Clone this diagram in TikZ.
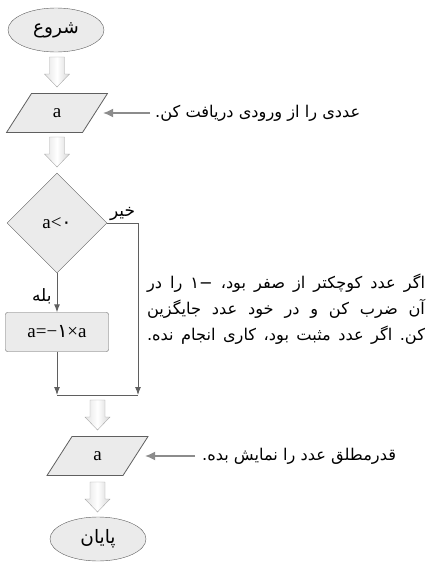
\documentclass[tikz,border=0pt]{standalone}
\usepackage{fontspec}
\setmainfont{Liberation Serif}
\newfontfamily\farsi[Script=Arabic]{DejaVu Sans}
\TeXXeTstate=1
\frenchspacing
\usetikzlibrary{arrows.meta,positioning,shapes.geometric,calc}

\definecolor{linegray}{HTML}{5F5F5F}
\definecolor{boxgray}{HTML}{EBEBEB}
\definecolor{pointergray}{HTML}{8C8C8C}
\definecolor{shaftgray}{HTML}{A8A8A8}

\tikzset{
  pics/flowarrow/.style={code={
    \draw[draw=shaftgray, left color=gray!22, right color=gray!32, middle color=white]
      (-7.5,0) -- (-7.5,17) -- (-12.5,17) -- (0,30) -- (12.5,17) -- (7.5,17) -- (7.5,0) -- cycle;
  }},
}
% slanted input/output box round a centre point
\newcommand{\ioshape}[1]{\draw[iobox] ($(#1)+(-50.5,19.5)$) -- ++(25,-39) -- ++(76,0) -- ++(-25,39) -- cycle;}

\begin{document}
\begin{tikzpicture}[x=1pt, y=-1pt,
  terminal/.style={ellipse, draw=linegray, fill=boxgray, minimum width=96pt, minimum height=44pt, inner sep=0pt, font=\farsi\fontsize{18.5}{20}\selectfont},
  iobox/.style={draw=linegray, fill=boxgray, line width=0.8pt},
  iotext/.style={minimum width=76pt, minimum height=39pt, inner sep=0pt, font=\fontsize{19}{21}\selectfont},
  decision/.style={diamond, draw=linegray, fill=boxgray, minimum width=100pt, minimum height=100pt, inner sep=0pt, font=\fontsize{19}{21}\selectfont},
  process/.style={rectangle, rounded corners=2pt, draw=linegray, fill=boxgray, minimum width=103pt, minimum height=39pt, inner sep=0pt, font=\fontsize{19}{21}\selectfont},
  flow/.style={draw=linegray, line width=1pt, -{Latex[length=8pt, width=6pt]}},
  pointer/.style={draw=pointergray, line width=1.2pt, -{Latex[length=10pt, width=9pt]}},
  note/.style={font=\farsi\fontsize{16.2}{26}\selectfont, inner sep=0pt},
  branch/.style={font=\farsi\fontsize{17}{19}\selectfont, inner sep=1pt},
]
\useasboundingbox (0,0) rectangle (428,563);

% flow column
\node[terminal] (start) at (56,30) {\beginR شروع\endR};
\ioshape{57,113}
\node[iotext] (in) at (57,113) {a};
\node[decision] (test) at (57,223) {a<{\farsi ۰}};
\node[process] (neg) at (57,332) {a=−{\farsi ۱}×a};
\coordinate (joinL) at (57,395);
\coordinate (joinR) at (138,395);
\ioshape{97.5,456}
\node[iotext] (out) at (97.5,456) {a};
\node[terminal] (stop) at (98,539) {\beginR پایان\endR};

% block arrows between steps
\pic at (57,57) {flowarrow};
\pic at (57,137) {flowarrow};
\pic at (97.5,400) {flowarrow};
\pic at (97.5,482) {flowarrow};

% branches
\draw[flow] (test.south) -- node[branch, left=4pt, pos=0.6] {\beginR بله\endR} (neg.north);
\draw[flow] (neg.south) -- (joinL);
\draw[flow] (test.east) -- node[branch, above=1pt] {\beginR خیر\endR} (test.east -| joinR) -- (joinR);
\draw[draw=linegray, line width=1pt] (joinL) -- (joinR);

% notes
\node[note, anchor=west] (innote) at (155,113) {\beginR عددی را از ورودی دریافت کن.\endR};
\draw[pointer] (innote.west) ++(-5,0) -- ($(in.east)+(8,0)$);
\node[note, anchor=west] (outnote) at (202,456) {\beginR قدرمطلق عدد را نمایش بده.\endR};
\draw[pointer] (outnote.west) ++(-7,0) -- ($(out.east)+(9.5,0)$);
\node[note, align=center] (negnote) at (286,309) {%
  \makebox[278pt][s]{\beginR اگر عدد کوچکتر از صفر بود، \beginL−۱\endL{} را در\endR}\\
  \makebox[278pt][s]{\beginR آن ضرب کن و در خود عدد جایگزین\endR}\\
  \makebox[278pt][s]{\beginR کن. اگر عدد مثبت بود، کاری انجام نده.\endR}};
\end{tikzpicture}
\end{document}
